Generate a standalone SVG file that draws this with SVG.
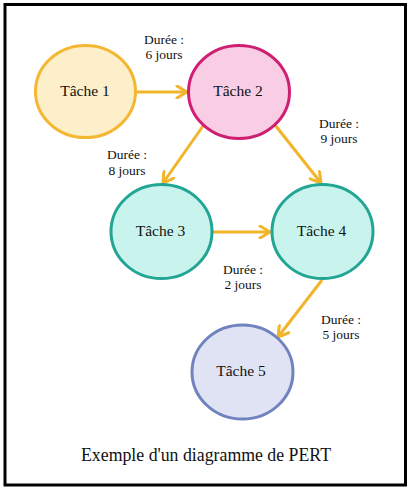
<svg xmlns="http://www.w3.org/2000/svg" width="413" height="490" viewBox="0 0 413 490">
<style>
.node{stroke-width:3}
.lbl{font-family:"Liberation Serif","Times New Roman",serif;font-size:15.5px;fill:#111;text-anchor:middle}
.dur{font-family:"Liberation Serif","Times New Roman",serif;font-size:13.5px;fill:#111;text-anchor:middle}
.cap{font-family:"Liberation Serif","Times New Roman",serif;font-size:17.8px;fill:#111;text-anchor:middle}
.edge{stroke:#f2b52a;stroke-width:3;fill:none;marker-end:url(#arr)}
</style>
<defs>
<marker id="arr" viewBox="0 0 14 14" refX="12" refY="7" markerWidth="14" markerHeight="14" markerUnits="userSpaceOnUse" orient="auto">
<path d="M2,1 L12,7 L2,13" fill="none" stroke="#f2b52a" stroke-width="3" stroke-linecap="round" stroke-linejoin="round"/>
</marker>
</defs>
<rect x="0" y="0" width="413" height="490" fill="#ffffff"/>
<rect x="5" y="4.5" width="400.5" height="480.5" fill="#ffffff" stroke="#000" stroke-width="3"/>
<g id="connectors">
<line class="edge" x1="137" y1="92" x2="187" y2="92"/>
<line class="edge" x1="203" y1="126" x2="163" y2="183"/>
<line class="edge" x1="275" y1="125" x2="321" y2="183"/>
<line class="edge" x1="212" y1="232" x2="270" y2="232"/>
<line class="edge" x1="322" y1="280" x2="278" y2="337"/>
</g>
<g id="labels">
<text class="dur" x="164" y="44">Durée :</text>
<text class="dur" x="164" y="59">6 jours</text>
<text class="dur" x="127" y="159">Durée :</text>
<text class="dur" x="127" y="175">8 jours</text>
<text class="dur" x="339" y="128">Durée :</text>
<text class="dur" x="339" y="143">9 jours</text>
<text class="dur" x="243" y="274">Durée :</text>
<text class="dur" x="243" y="289">2 jours</text>
<text class="dur" x="341" y="324">Durée :</text>
<text class="dur" x="341" y="339">5 jours</text>
</g>
<g id="tache1">
<ellipse class="node" cx="85.5" cy="91.5" rx="50" ry="46" fill="#fdefc9" stroke="#f3b731"/>
<text class="lbl" x="85" y="96">Tâche 1</text>
</g>
<g id="tache2">
<ellipse class="node" cx="239" cy="92" rx="50.5" ry="46.5" fill="#f9cde4" stroke="#cf1f74"/>
<text class="lbl" x="238" y="96">Tâche 2</text>
</g>
<g id="tache3">
<ellipse class="node" cx="161.5" cy="231.5" rx="50.5" ry="47" fill="#c9f4ee" stroke="#22a593"/>
<text class="lbl" x="160.5" y="236">Tâche 3</text>
</g>
<g id="tache4">
<ellipse class="node" cx="322.5" cy="231.5" rx="50.5" ry="47" fill="#c9f4ee" stroke="#22a593"/>
<text class="lbl" x="321.5" y="236">Tâche 4</text>
</g>
<g id="tache5">
<ellipse class="node" cx="242.5" cy="372" rx="50.5" ry="47" fill="#e0e3f3" stroke="#7183be"/>
<text class="lbl" x="241" y="376">Tâche 5</text>
</g>
<text class="cap" x="206" y="461">Exemple d'un diagramme de PERT</text>
</svg>
